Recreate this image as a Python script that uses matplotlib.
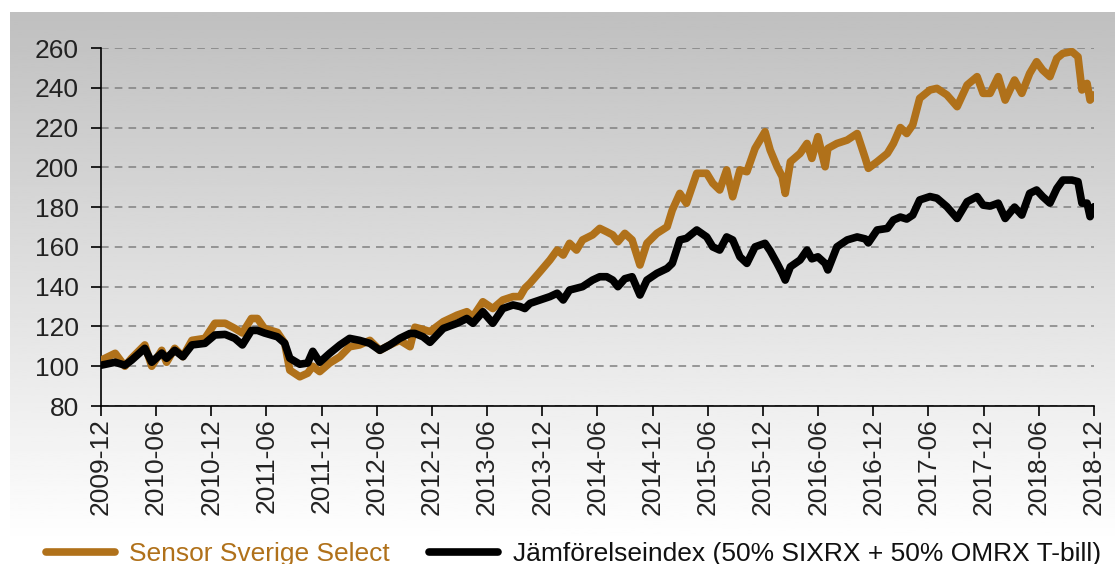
import numpy as np
import pandas as pd
import matplotlib
matplotlib.use("Agg")
import matplotlib.pyplot as plt
import matplotlib.dates as mdates
from matplotlib.lines import Line2D

dates = ["2009-12-01","2010-01-17","2010-02-18","2010-03-12","2010-04-25","2010-05-18","2010-06-20",
"2010-07-06","2010-08-02","2010-08-29","2010-09-28","2010-11-10","2010-12-13","2011-01-16","2011-02-17",
"2011-03-14","2011-04-13","2011-05-03","2011-05-26","2011-07-08","2011-08-01","2011-08-18","2011-09-20",
"2011-10-16","2011-11-02","2011-11-25","2011-12-28","2012-01-31","2012-03-03","2012-04-05","2012-05-09",
"2012-06-11","2012-07-14","2012-08-16","2012-09-19","2012-10-05","2012-11-01","2012-11-24","2013-01-07",
"2013-02-22","2013-03-26","2013-04-15","2013-05-18","2013-06-20","2013-07-23","2013-08-26","2013-09-18",
"2013-10-04","2013-10-21","2013-11-23","2013-12-26","2014-01-19","2014-02-08","2014-03-01","2014-03-24",
"2014-04-13","2014-05-16","2014-06-09","2014-07-02","2014-07-22","2014-08-08","2014-08-31","2014-09-24",
"2014-10-20","2014-11-12","2014-12-15","2015-01-18","2015-02-04","2015-03-01","2015-03-23","2015-04-26",
"2015-05-29","2015-06-18","2015-07-11","2015-08-03","2015-08-23","2015-09-16","2015-10-09","2015-11-05",
"2015-12-08","2015-12-25","2016-01-17","2016-02-03","2016-02-13","2016-03-01","2016-04-02","2016-04-25",
"2016-05-11","2016-05-31","2016-06-24","2016-07-03","2016-08-02","2016-09-05","2016-10-08","2016-11-04",
"2016-11-14","2016-12-13","2017-01-16","2017-02-05","2017-02-28","2017-03-21","2017-04-10","2017-05-03",
"2017-06-06","2017-06-29","2017-08-01","2017-09-04","2017-10-07","2017-11-09","2017-11-29","2017-12-22",
"2018-01-18","2018-02-10","2018-03-13","2018-04-06","2018-05-02","2018-05-25","2018-06-14","2018-07-08",
"2018-07-31","2018-08-20","2018-09-19","2018-10-09","2018-10-22","2018-11-08","2018-11-18","2018-12-01"]

sensor = [103, 106.5, 100, 104, 110.7, 100, 108,
102, 109, 104.8, 113, 114, 121.6, 121.6, 119,
116.7, 124, 124, 119, 117, 111.6, 98, 94.7,
96.5, 100, 97.3, 101.6, 104.8, 109.8, 110.7, 113,
108, 110.7, 113, 109.8, 119.6, 118.5, 117.4, 122.4,
125.7, 127.4, 124.9, 132.4, 129, 133.3, 135, 135,
139.2, 141.7, 147.5, 153.4, 158.4, 155.9, 161.8, 158.4,
163.5, 166, 169.3, 167.6, 166, 162.6, 166.8, 163.5,
150.9, 161.8, 166.8, 170.1, 178.5, 186.9, 181.9, 197,
197, 192, 188.6, 198.7, 185.2, 198.7, 197.8, 209.5,
217.9, 208.7, 200.3, 195.3, 186.9, 202.8, 207, 212,
204.5, 215.4, 200.3, 209.5, 212, 213.7, 217, 204.5,
199.5, 202.8, 207, 212, 220, 217, 221.3, 234.7,
238.9, 239.7, 236.4, 230.5, 241.4, 245.6, 237.2, 237.2,
245.6, 233.8, 243.9, 237.2, 247.2, 253.1, 248.9, 245.6,
254.8, 257.3, 258.2, 255.6, 238.9, 242.2, 233.8, 236.4]

benchmark = [100.5, 102, 100.5, 103, 109, 102, 106.6,
104, 108, 104.8, 110.7, 111.5, 115.7, 116, 114,
110.7, 118, 118, 116.7, 114.8, 111.6, 104, 101,
101.6, 107.5, 102, 106.5, 110.7, 114, 113, 111.5,
108, 110.7, 114, 116.5, 116.5, 114.8, 112, 119,
121.6, 124, 121.6, 127.4, 121.6, 129, 130.8, 130,
129, 131.6, 133.3, 135, 136.7, 133.3, 138.3, 139.2,
140, 143.3, 145, 145, 143.3, 140, 144, 145,
135.8, 143.3, 146.7, 149.2, 151.7, 163.5, 164.3, 168.5,
165, 160, 158.4, 165, 163.5, 155, 151.7, 160,
161.8, 158, 151.7, 146.7, 143.3, 150, 153.4, 158.4,
154, 155, 151.7, 148.4, 160, 163.5, 165, 164,
162, 168.5, 169.3, 173.5, 175, 174, 176, 183.6,
185.3, 184.5, 180.2, 174.3, 182.7, 185.3, 181, 180.5,
182, 174.3, 180, 176, 186.9, 188.6, 185.3, 182,
189.4, 193.6, 193.6, 192.8, 182, 182, 175.2, 180.2]

label_sensor = "Sensor Sverige Select"
label_bench = "Jämförelseindex (50% SIXRX + 50% OMRX T-bill)"
yticks = [80, 100, 120, 140, 160, 180, 200, 220, 240, 260]

ORANGE = "#B0711A"
W, H = 1115, 564
FS = 19
plt.rcParams['font.family'] = ['Liberation Sans', 'DejaVu Sans']

fig = plt.figure(figsize=(W / 100, H / 100), dpi=100)
fig.patch.set_facecolor("white")

# gradient background panel
bg = fig.add_axes([10 / W, 0, 1 - 10 / W, (H - 12) / H], zorder=0)
grad = np.linspace(0.75, 1.0, 256)
grad = np.clip(np.concatenate([grad, np.ones(10)]), 0, 1)
bg.imshow(grad[:, None], cmap="gray", vmin=0, vmax=1, aspect="auto",
          extent=[0, 1, 0, 1], origin="upper")
bg.axis("off")

ax = fig.add_axes([101 / W, 1 - 406 / H, (1094 - 101) / W, (406 - 48) / H], zorder=1)
ax.patch.set_alpha(0)

x = pd.to_datetime(dates)
ax.plot(x, sensor, color=ORANGE, lw=5.5, solid_joinstyle="round", solid_capstyle="round", zorder=3)
ax.plot(x, benchmark, color="black", lw=5.5, solid_joinstyle="round", solid_capstyle="round", zorder=4)

ax.set_ylim(80, 260)
ax.set_yticks(yticks)
ax.set_xlim(pd.Timestamp("2009-12-01"), pd.Timestamp("2018-12-01"))
ax.xaxis.set_major_locator(mdates.MonthLocator(bymonth=[6, 12], bymonthday=1))
ax.xaxis.set_major_formatter(mdates.DateFormatter("%Y-%m"))
for lbl in ax.get_xticklabels():
    lbl.set_rotation(90)

for s in ["top", "right"]:
    ax.spines[s].set_visible(False)
for s in ["left", "bottom"]:
    ax.spines[s].set_color("black")
    ax.spines[s].set_linewidth(1.2)

ax.tick_params(axis="both", direction="out", length=7, width=1.2, color="black",
               labelsize=FS, labelcolor="#222222")
ax.tick_params(axis="y", pad=9)
ax.tick_params(axis="x", pad=2)
ax.yaxis.grid(True, linestyle=(0, (5, 4)), color="#808080", linewidth=1.1)
ax.set_axisbelow(True)

handles = [Line2D([], [], color=ORANGE, lw=5.5, solid_capstyle="round"),
           Line2D([], [], color="black", lw=5.5, solid_capstyle="round")]
leg = fig.legend(handles, [label_sensor, label_bench], loc="center left",
                 bbox_to_anchor=(46 / W, 1 - 554 / H), ncol=2, frameon=False,
                 fontsize=FS, handlelength=2.6, handletextpad=0.55, columnspacing=1.5,
                 borderaxespad=0, borderpad=0)
leg.get_texts()[0].set_color(ORANGE)
leg.get_texts()[1].set_color("#111111")

fig.savefig("out.png", dpi=100)
